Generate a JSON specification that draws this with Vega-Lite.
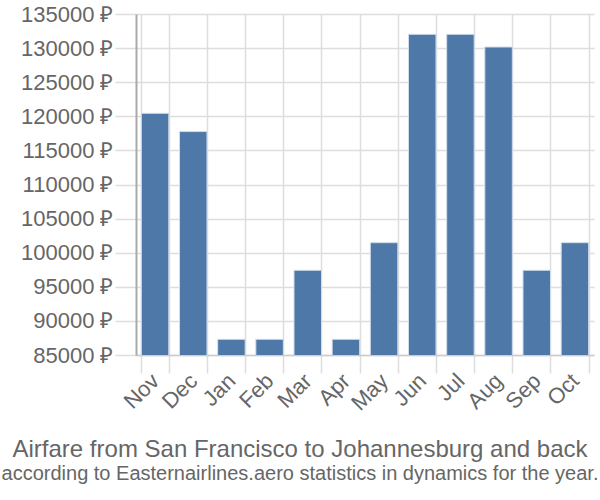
{
  "$schema": "https://vega.github.io/schema/vega-lite/v6.json",
  "autosize": "none",
  "width": 458,
  "height": 341,
  "padding": {"left": 136, "top": 14, "right": 6, "bottom": 145},
  "background": "white",
  "title": {
    "text": "Airfare from San Francisco to Johannesburg and back",
    "subtitle": "according to Easternairlines.aero statistics in dynamics for the year.",
    "orient": "bottom",
    "anchor": "middle",
    "dx": -65,
    "font": "Liberation Sans",
    "subtitleFont": "Liberation Sans",
    "fontSize": 24,
    "subtitleFontSize": 20,
    "fontWeight": "normal",
    "color": "#666666",
    "subtitleColor": "#666666",
    "offset": 24,
    "subtitlePadding": 2
  },
  "data": {
    "values": [
      {"month": "Nov", "price": 120440},
      {"month": "Dec", "price": 117760},
      {"month": "Jan", "price": 87300},
      {"month": "Feb", "price": 87300},
      {"month": "Mar", "price": 97420},
      {"month": "Apr", "price": 87300},
      {"month": "May", "price": 101470},
      {"month": "Jun", "price": 132020},
      {"month": "Jul", "price": 132020},
      {"month": "Aug", "price": 130160},
      {"month": "Sep", "price": 97420},
      {"month": "Oct", "price": 101470}
    ]
  },
  "mark": {"type": "bar", "fill": "#4e78a7", "stroke": "#d0dcea", "strokeWidth": 1, "clip": true},
  "encoding": {
    "x": {
      "field": "month",
      "type": "nominal",
      "sort": null,
      "scale": {"paddingInner": 0.28, "paddingOuter": 0.14},
      "axis": {
        "title": null,
        "tickBand": "extent",
        "labelAngle": -45,
        "labelAlign": "right",
        "labelBaseline": "middle",
        "labelFont": "Liberation Sans",
        "labelFontSize": 22,
        "labelColor": "#666666",
        "labelPadding": 4,
        "grid": true,
        "gridColor": "#dddddd",
        "gridWidth": 1.5,
        "tickColor": "#dddddd",
        "tickWidth": 1.5,
        "tickSize": 18,
        "domainColor": "#cccccc",
        "domainWidth": 1.5
      }
    },
    "y": {
      "field": "price",
      "type": "quantitative",
      "scale": {"domain": [85000, 135000], "zero": false, "nice": false},
      "axis": {
        "title": null,
        "values": [85000, 90000, 95000, 100000, 105000, 110000, 115000, 120000, 125000, 130000, 135000],
        "labelExpr": "format(datum.value, 'd') + ' ₽'",
        "labelFont": "Liberation Sans",
        "labelFontSize": 22,
        "labelColor": "#666666",
        "labelPadding": 2,
        "grid": true,
        "gridColor": "#dddddd",
        "gridWidth": 1.5,
        "tickColor": "#dddddd",
        "tickWidth": 1.5,
        "tickSize": 21,
        "domainColor": "#aaaaaa",
        "domainWidth": 2
      }
    }
  },
  "config": {"view": {"stroke": null}}
}
